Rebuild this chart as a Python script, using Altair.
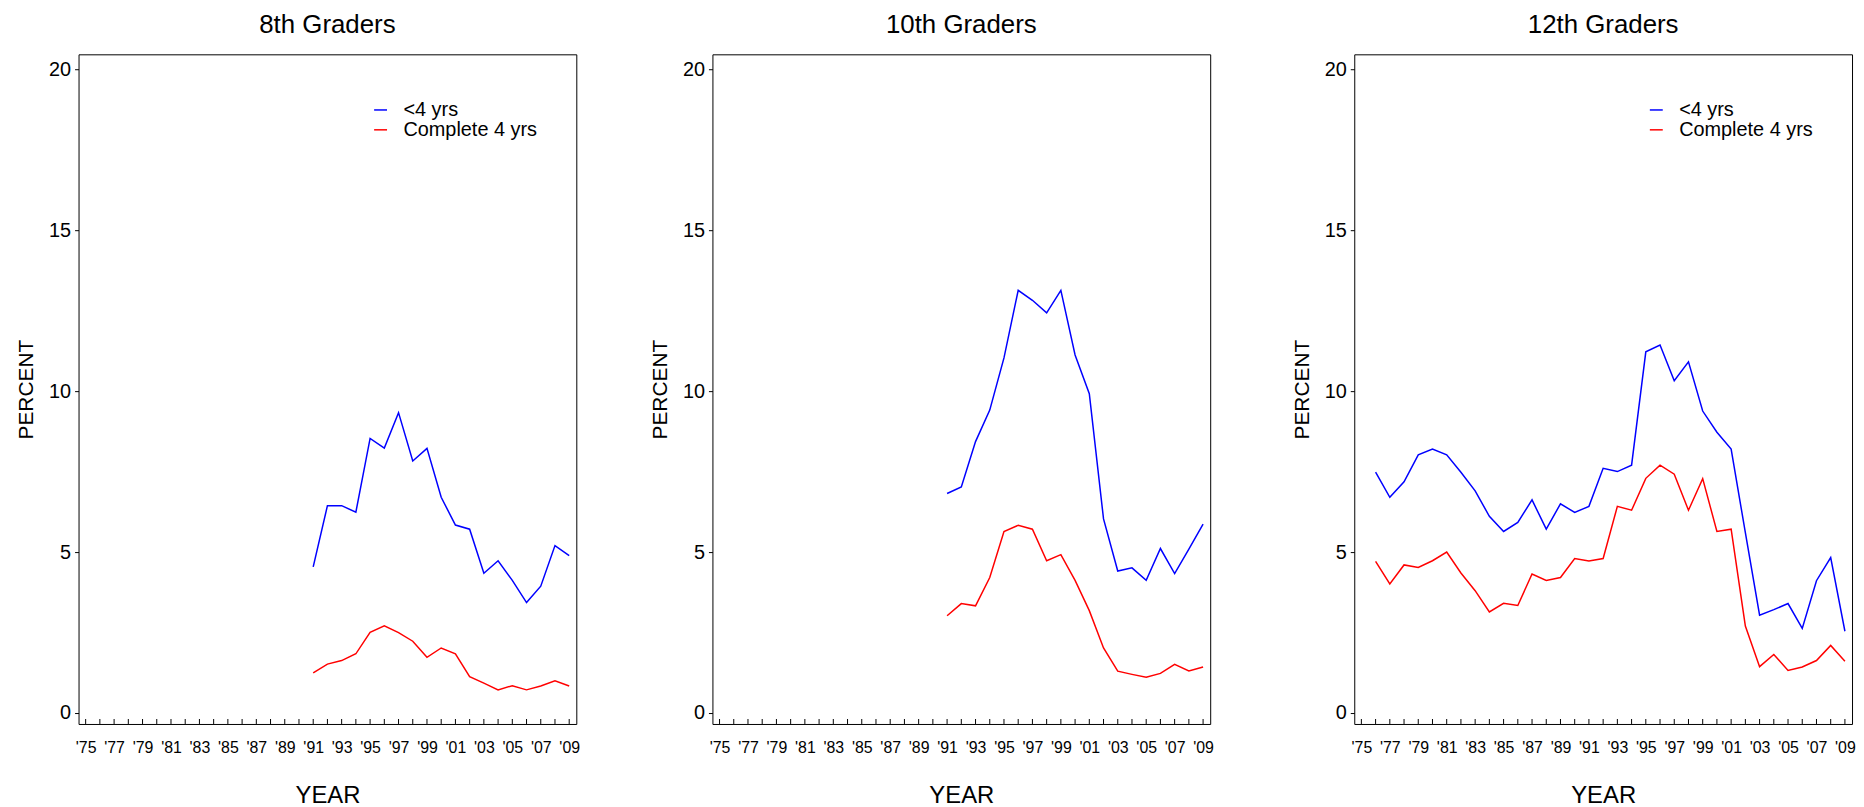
import altair as alt
import pandas as pd

# ---- data ----
grades = ["8th Graders", "10th Graders", "12th Graders"]
series_names = ["<4 yrs", "Complete 4 yrs"]

years_8 = list(range(1991, 2010))
lt4_8 = [4.54, 6.44, 6.44, 6.24, 8.53, 8.23, 9.33, 7.83, 8.22, 6.70,
         5.84, 5.71, 4.34, 4.73, 4.12, 3.43, 3.94, 5.20, 4.89]
c4_8 = [1.25, 1.52, 1.63, 1.84, 2.51, 2.71, 2.50, 2.23, 1.73, 2.02,
        1.84, 1.13, 0.93, 0.72, 0.85, 0.72, 0.84, 1.00, 0.84]

years_10 = list(range(1991, 2010))
lt4_10 = [6.82, 7.02, 8.43, 9.41, 11.03, 13.13, 12.82, 12.43, 13.13, 11.12,
          9.92, 6.03, 4.41, 4.51, 4.12, 5.11, 4.33, 5.09, 5.87]
c4_10 = [3.02, 3.40, 3.33, 4.21, 5.64, 5.83, 5.71, 4.73, 4.92, 4.12,
         3.18, 2.02, 1.30, 1.20, 1.11, 1.23, 1.51, 1.31, 1.43]

years_12 = list(range(1976, 2010))
lt4_12 = [7.48, 6.70, 7.18, 8.02, 8.20, 8.02, 7.48, 6.90, 6.11, 5.64,
          5.92, 6.62, 5.71, 6.50, 6.23, 6.42, 7.60, 7.50, 7.70, 11.22,
          11.43, 10.32, 10.91, 9.38, 8.72, 8.20, 5.60, 3.04, 3.21, 3.40,
          2.63, 4.11, 4.83, 2.54]
c4_12 = [4.71, 4.01, 4.60, 4.52, 4.73, 5.00, 4.35, 3.80, 3.14, 3.41,
         3.34, 4.32, 4.12, 4.21, 4.80, 4.72, 4.80, 6.42, 6.30, 7.29,
         7.70, 7.42, 6.30, 7.28, 5.64, 5.71, 2.70, 1.44, 1.82, 1.32,
         1.43, 1.63, 2.10, 1.61]

tick_years = list(range(1975, 2010))
label_years = list(range(1975, 2010, 2))
y_ticks = [0, 5, 10, 15, 20]

colors = ["#0000FF", "#FF0000"]

FONT = "Liberation Sans"
W, H = 501, 674

panel_data = {
    "8th Graders": (years_8, lt4_8, c4_8),
    "10th Graders": (years_10, lt4_10, c4_10),
    "12th Graders": (years_12, lt4_12, c4_12),
}

ticks_df = pd.DataFrame({"year": tick_years})

x_axis = alt.Axis(title="YEAR", values=label_years, ticks=False,
                  domain=False, grid=False, labelFontSize=16,
                  labelFont=FONT, labelColor="black",
                  labelPadding=16, labelFlush=False,
                  labelOverlap=False, labelBound=False,
                  labelExpr="\"'\" + substring(toString(datum.value), 2, 4)",
                  titleFontSize=24, titleFont=FONT,
                  titleFontWeight="normal", titleColor="black",
                  titlePadding=28)


def panel(name):
    yrs, a, b = panel_data[name]
    df = pd.DataFrame({
        "year": yrs * 2,
        "value": a + b,
        "series": [series_names[0]] * len(yrs) + [series_names[1]] * len(yrs),
    })
    xscale = alt.Scale(domain=[1974.5, 2009.5], nice=False, zero=False)
    yscale = alt.Scale(domain=[-0.34, 20.46], nice=False, zero=False)
    lines = alt.Chart(df).mark_line(strokeWidth=1.5).encode(
        x=alt.X("year:Q", scale=xscale, axis=x_axis),
        y=alt.Y("value:Q", scale=yscale,
                axis=alt.Axis(title="PERCENT", values=y_ticks, tickSize=4,
                              tickColor="black", domain=False, grid=False,
                              labelFontSize=20, labelFont=FONT,
                              labelColor="black", labelPadding=4,
                              labelOverlap=False,
                              titleFontSize=21, titleFont=FONT,
                              titleFontWeight="normal", titleColor="black",
                              titlePadding=12)),
        color=alt.Color("series:N",
                        scale=alt.Scale(domain=series_names, range=colors),
                        legend=alt.Legend(orient="none", legendX=294,
                                          legendY=46, title=None,
                                          symbolType="stroke", symbolSize=169,
                                          symbolStrokeWidth=1.5,
                                          labelFontSize=20, labelFont=FONT,
                                          labelColor="black", labelOffset=13,
                                          rowPadding=0)),
        detail="series:N",
    )
    ticks = alt.Chart(ticks_df).mark_rule(color="black", strokeWidth=1).encode(
        x=alt.X("year:Q", scale=xscale, axis=x_axis),
        y=alt.value(H - 5),
        y2=alt.value(H),
    )
    return alt.layer(lines, ticks).properties(
        width=W, height=H,
        title=alt.TitleParams(name, fontSize=26, font=FONT,
                              fontWeight="normal", color="black",
                              anchor="middle", offset=16),
    )


p1, p2, p3 = [panel(g) for g in grades]
inner = alt.hconcat(p1, p2, spacing=69)
chart = alt.hconcat(inner, p3, spacing=77).resolve_legend(
    color="independent"
).properties(
    background="white",
    padding={"left": 7, "top": 1, "right": 0, "bottom": 5},
).configure_view(stroke="black", strokeWidth=1)

chart.save("out.html", embed_options={"renderer": "svg", "actions": False})
